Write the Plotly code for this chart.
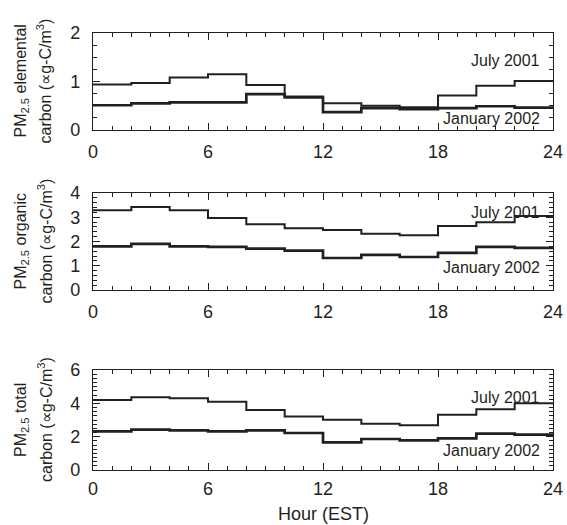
import plotly.graph_objects as go

# ---- data ----
bin_edges = [0, 2, 4, 6, 8, 10, 12, 14, 16, 18, 20, 22, 24]
x_ticks = [0, 6, 12, 18, 24]

ec_july = [0.94, 0.97, 1.08, 1.15, 0.93, 0.69, 0.55, 0.50, 0.47, 0.71, 0.91, 1.01]
ec_jan = [0.51, 0.55, 0.57, 0.57, 0.74, 0.67, 0.37, 0.45, 0.43, 0.45, 0.49, 0.46]

oc_july = [3.29, 3.42, 3.29, 2.97, 2.71, 2.55, 2.47, 2.32, 2.26, 2.64, 2.79, 3.05]
oc_jan = [1.80, 1.90, 1.80, 1.78, 1.71, 1.62, 1.32, 1.45, 1.36, 1.53, 1.78, 1.74]

tc_july = [4.20, 4.36, 4.30, 4.10, 3.60, 3.21, 3.01, 2.77, 2.69, 3.31, 3.64, 4.00]
tc_jan = [2.32, 2.42, 2.38, 2.32, 2.38, 2.22, 1.66, 1.86, 1.78, 1.90, 2.18, 2.12]

series_names = ["July 2001", "January 2002"]
y_title_line1 = ["PM<sub>2.5</sub> elemental", "PM<sub>2.5</sub> organic", "PM<sub>2.5</sub> total"]
y_title_line2 = ["carbon (∝g-C/m<sup>3</sup>)"] * 3
y_ranges = [[0, 2], [0, 4], [0, 6]]
y_dticks = [1, 1, 2]
y_minor = [0.25, 0.2, 0.25]
x_title = "Hour (EST)"

panels = [(ec_july, ec_jan), (oc_july, oc_jan), (tc_july, tc_jan)]

# label positions (domain fractions) for series labels
label_y = [(0.72, 0.115), (0.80, 0.235), (0.73, 0.20)]

FONT = "Liberation Sans, Arial, Helvetica, sans-serif"
INK = "#231f20"

W, H = 567, 525
ML, MR, MT, MB = 93, 14, 33, 55
plot_w = W - ML - MR
plot_h = H - MT - MB
bottom_px = H - MB

def py(px):
    return (bottom_px - px) / plot_h

def px_x(px):
    return (px - ML) / plot_w

panel_px = [(33, 130), (193, 290), (370, 470)]
domains = [[py(b), py(t)] for t, b in panel_px]

fig = go.Figure()
annotations = []
for i, (july, jan) in enumerate(panels):
    n = "" if i == 0 else str(i + 1)
    for vals, w in ((july, 2.0), (jan, 2.7)):
        fig.add_trace(go.Scatter(
            x=bin_edges, y=vals + [vals[-1]],
            mode="lines", line=dict(shape="hv", color=INK, width=w),
            xaxis="x" + n, yaxis="y" + n, showlegend=False, hoverinfo="skip",
        ))
    fig.layout["xaxis" + n] = dict(
        domain=[0, 1], anchor="y" + n, range=[0, 24], automargin=False,
        tickvals=x_ticks, ticks="inside", ticklen=7, tickwidth=1, tickcolor=INK,
        minor=dict(dtick=1, ticks="inside", ticklen=4, tickwidth=1, tickcolor=INK),
        showline=True, linecolor=INK, linewidth=1.3, mirror="ticks",
        showgrid=False, zeroline=False,
        tickfont=dict(family=FONT, size=18, color=INK),
        ticklabelstandoff=5 if i < 2 else 2,
    )
    fig.layout["yaxis" + n] = dict(
        domain=domains[i], anchor="x" + n, range=y_ranges[i], automargin=False,
        dtick=y_dticks[i], tick0=0, ticks="inside", ticklen=7, tickwidth=1, tickcolor=INK,
        minor=dict(dtick=y_minor[i], tick0=0, ticks="inside", ticklen=4, tickwidth=1, tickcolor=INK),
        showline=True, linecolor=INK, linewidth=1.3, mirror="ticks",
        showgrid=False, zeroline=False,
        tickfont=dict(family=FONT, size=18, color=INK),
        ticklabelstandoff=8,
    )
    for name, yy in zip(series_names, label_y[i]):
        annotations.append(dict(
            text=name, xref="x" + n + " domain", yref="y" + n + " domain",
            x=0.975, y=yy, xanchor="right", yanchor="middle", showarrow=False,
            font=dict(family=FONT, size=16, color=INK),
        ))
    yc = (domains[i][0] + domains[i][1]) / 2
    for txt, xpx in ((y_title_line1[i], 21), (y_title_line2[i], 45)):
        annotations.append(dict(
            text=txt, xref="paper", yref="paper", x=px_x(xpx), y=yc,
            xanchor="center", yanchor="middle", textangle=-90, showarrow=False,
            font=dict(family=FONT, size=16, color=INK),
        ))

annotations.append(dict(
    text=x_title, xref="paper", yref="paper", x=0.5, y=py(514),
    xanchor="center", yanchor="middle", showarrow=False,
    font=dict(family=FONT, size=18, color=INK),
))

fig.update_layout(
    width=W, height=H,
    margin=dict(l=ML, r=MR, t=MT, b=MB, autoexpand=False),
    paper_bgcolor="white", plot_bgcolor="white",
    annotations=annotations,
)

fig.write_html(
    "out.html",
    config={"displayModeBar": False},
    post_script="document.body.style.margin='0px';document.body.style.overflow='hidden';",
)
